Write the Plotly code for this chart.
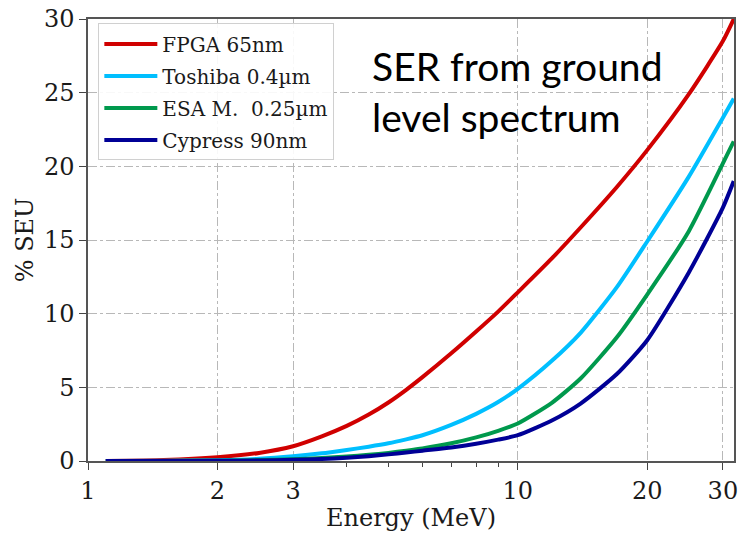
import plotly.graph_objects as go

energy = [1.1, 1.5, 2, 2.5, 3, 3.5, 4, 4.5, 5, 5.5, 6, 7, 8, 9, 10, 12, 14, 17, 20, 25, 30, 31.8]
fpga_65nm = [0.0, 0.06, 0.25, 0.55, 1.0, 1.67, 2.38, 3.15, 3.97, 4.83, 5.69, 7.31, 8.79, 10.14, 11.45, 13.75, 15.85, 18.6, 21.1, 24.9, 28.5, 30.0]
toshiba_04um = [0.0, 0.01, 0.05, 0.15, 0.32, 0.52, 0.75, 0.97, 1.2, 1.47, 1.75, 2.45, 3.2, 4.0, 4.9, 6.8, 8.7, 11.8, 14.9, 19.3, 23.3, 24.6]
esa_025um = [0.0, 0.005, 0.02, 0.06, 0.12, 0.2, 0.3, 0.42, 0.55, 0.7, 0.85, 1.2, 1.6, 2.05, 2.55, 3.95, 5.6, 8.4, 11.3, 15.6, 20.2, 21.7]
cypress_90nm = [0.0, 0.003, 0.01, 0.04, 0.08, 0.14, 0.22, 0.33, 0.45, 0.57, 0.7, 0.92, 1.17, 1.45, 1.75, 2.75, 3.9, 5.9, 8.2, 12.8, 17.2, 19.0]

series_names = ["FPGA 65nm", "Toshiba 0.4µm", "ESA M.  0.25µm", "Cypress 90nm"]
series_values = [fpga_65nm, toshiba_04um, esa_025um, cypress_90nm]
series_colors = ["#d00000", "#00bfff", "#00994d", "#000096"]

x_tick_vals = [1, 2, 3, 10, 20, 30]
x_minor_vals = [4, 5, 6, 7, 8, 9]
y_tick_vals = [0, 5, 10, 15, 20, 25, 30]

fig = go.Figure()
for i, (name, vals, col) in enumerate(zip(series_names, series_values, series_colors)):
    fig.add_trace(go.Scatter(
        x=energy, y=vals, mode="lines", name=name,
        line=dict(color=col, width=4, shape="spline", smoothing=0.6),
        legendgroup="g%d" % i,
    ))

serif = "DejaVu Serif"
fig.update_layout(
    width=743, height=533,
    margin=dict(l=88, r=5, t=15, b=72),
    paper_bgcolor="white", plot_bgcolor="white",
    font=dict(family=serif, color="#1a1a1a"),
    showlegend=True,
    legend=dict(
        x=0.016, y=0.99, xanchor="left", yanchor="top",
        bgcolor="rgba(255,255,255,0.9)", bordercolor="#d0d0d0", borderwidth=1,
        font=dict(family=serif, size=20, color="#1a1a1a"),
        tracegroupgap=3, traceorder="grouped", itemwidth=53,
    ),
    xaxis=dict(
        type="log", range=[0, 1.503],
        tickvals=x_tick_vals, ticktext=[str(v) for v in x_tick_vals],
        ticks="outside", ticklen=7, tickwidth=1.3, tickcolor="#444",
        tickfont=dict(family=serif, size=24, color="#1a1a1a"),
        showgrid=True, gridcolor="#b8b8b8", gridwidth=1, griddash="dashdot",
        showline=True, linecolor="#555", linewidth=1.5, mirror=True,
        zeroline=False,
        minor=dict(tickvals=x_minor_vals, ticks="outside", ticklen=4, tickcolor="#444", showgrid=False),
        title=dict(text="Energy (MeV)", font=dict(family=serif, size=24, color="#1a1a1a"), standoff=6),
    ),
    yaxis=dict(
        range=[0, 30], tickvals=y_tick_vals,
        ticks="outside", ticklen=7, tickwidth=1.3, tickcolor="#444",
        tickfont=dict(family=serif, size=24, color="#1a1a1a"),
        showgrid=True, gridcolor="#b8b8b8", gridwidth=1, griddash="dashdot",
        showline=True, linecolor="#555", linewidth=1.5, mirror=True,
        zeroline=False,
        title=dict(text="% SEU", font=dict(family=serif, size=24, color="#1a1a1a"), standoff=4),
    ),
    annotations=[dict(
        text="SER from ground<br>level spectrum",
        xref="paper", yref="paper", x=0.436, y=0.95,
        xanchor="left", yanchor="top", align="left", showarrow=False,
        font=dict(family="Lato", size=39, color="black"),
    )],
)

fig.write_html("out.html")
